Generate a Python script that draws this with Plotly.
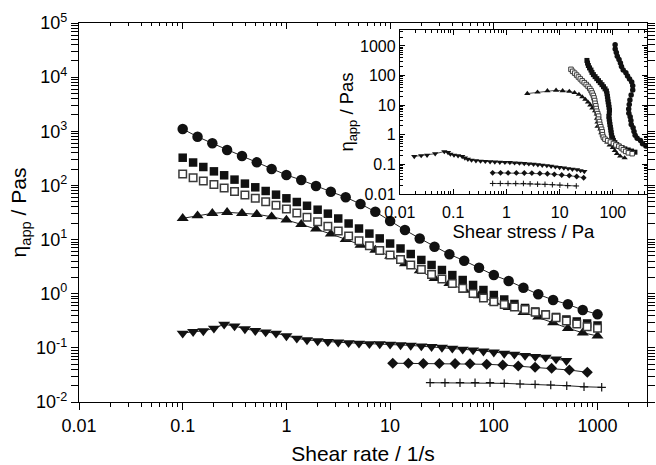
import plotly.graph_objects as go

# ---------------- data ----------------
rate_a = [0.1, 0.139, 0.193, 0.268, 0.373, 0.518, 0.72, 1.0, 1.39, 1.93, 2.68, 3.73, 5.18, 7.2,
          10, 13.9, 19.3, 26.8, 37.3, 51.8, 72, 100, 139, 193, 268, 373, 518, 720, 1000]
rate_b = [0.1, 0.126, 0.158, 0.2, 0.251, 0.316, 0.398, 0.501, 0.631, 0.794,
          1.0, 1.26, 1.58, 2.0, 2.51, 3.16, 3.98, 5.01, 6.31, 7.94,
          10, 12.6, 15.8, 20, 25.1, 31.6, 39.8, 50.1, 63.1, 79.4,
          100, 126, 158, 200, 251, 316, 398, 501, 631, 794, 1000]

eta_circle = [1100, 794, 600, 451, 349, 267, 201, 156, 126, 97.5, 76.6, 60.4, 45.4, 32.7,
              22.0, 15.0, 10.5, 7.38, 5.34, 4.07, 3.02, 2.21, 1.72, 1.29, 0.975, 0.765,
              0.637, 0.500, 0.416]
eta_square = [325, 265, 219, 182, 154, 128, 108, 92.3, 78.9, 67.5, 57.8, 49.4, 42.1, 35.6,
              30.1, 24.5, 19.8, 16.0, 12.9, 10.5, 8.45, 6.84, 5.41, 4.20, 3.39, 2.74, 2.21,
              1.79, 1.45, 1.17, 0.946, 0.782, 0.646, 0.545, 0.469, 0.413, 0.372, 0.334,
              0.307, 0.282, 0.259]
eta_open_square = [163, 139, 121, 104, 89.6, 77.2, 66.5, 57.8, 50.0, 43.1, 36.7, 30.9, 25.8,
                   21.4, 17.6, 14.4, 11.6, 9.53, 7.71, 6.28, 5.19, 4.28, 3.39, 2.80, 2.26,
                   1.87, 1.54, 1.26, 1.01, 0.834, 0.711, 0.632, 0.568, 0.511, 0.453, 0.409,
                   0.361, 0.313, 0.275, 0.246, 0.230]
eta_triangle = [24.7, 27.6, 30.5, 31.9, 30.5, 29.3, 26.4, 23.0, 19.1, 15.7, 12.7, 10.1, 7.94,
                6.41, 4.97, 3.61, 2.66, 1.92, 1.56, 1.17, 0.918, 0.703, 0.561, 0.450, 0.372,
                0.291, 0.230, 0.190, 0.166]
eta_down = [0.186, 0.199, 0.205, 0.230, 0.272, 0.253, 0.223, 0.207, 0.196, 0.186, 0.166,
            0.150, 0.140, 0.134, 0.130, 0.127, 0.124, 0.121, 0.119, 0.118, 0.116, 0.113,
            0.111, 0.108, 0.105, 0.102, 0.098, 0.094, 0.091, 0.087, 0.083, 0.079, 0.076,
            0.072, 0.069, 0.067, 0.062, 0.058]
rate_down = rate_b[:38]
rate_diamond = [10.6, 15.0, 20.9, 29.8, 42.3, 58.9, 85.4, 122, 172, 250, 361, 535, 797]
eta_diamond = [0.052, 0.0518, 0.0515, 0.0515, 0.0512, 0.051, 0.0497, 0.0482, 0.0462, 0.0437,
               0.0419, 0.039, 0.0354]
rate_plus = [24.3, 33.8, 47.2, 65.9, 91.9, 126, 179, 250, 354, 505, 741, 1097]
eta_plus = [0.0227, 0.0227, 0.0227, 0.0227, 0.0227, 0.0221, 0.0215, 0.0212, 0.0206, 0.0200,
            0.0191, 0.0187]

main_xticks = [0.01, 0.1, 1, 10, 100, 1000]
main_xlabels = ["0.01", "0.1", "1", "10", "100", "1000"]
main_yticks = [1e-2, 1e-1, 1e0, 1e1, 1e2, 1e3, 1e4, 1e5]
main_ylabels = ["10<sup>-2</sup>", "10<sup>-1</sup>", "10<sup>0</sup>", "10<sup>1</sup>",
                "10<sup>2</sup>", "10<sup>3</sup>", "10<sup>4</sup>", "10<sup>5</sup>"]
inset_xticks = [0.01, 0.1, 1, 10, 100]
inset_xlabels = ["0.01", "0.1", "1", "10", "100"]
inset_yticks = [0.01, 0.1, 1, 10, 100, 1000]
inset_ylabels = ["0.01", "0.1", "1", "10", "100", "1000"]

# shear stress = viscosity x shear rate (inset abscissa)
def stress(rate, eta):
    return [r * e for r, e in zip(rate, eta)]

series = [
    # rate, eta, symbol, main size, inset size, fill, outline, outline width, line?
    (rate_down, eta_down, "triangle-down", 10.5, 5.5, "#111111", "#111111", 0, True),
    (rate_diamond, eta_diamond, "diamond", 8.5, 4.5, "#111111", "#111111", 0, True),
    (rate_plus, eta_plus, "cross-thin", 6, 4, "#111111", "#111111", 1.2, True),
    (rate_a, eta_triangle, "triangle-up", 10.5, 5.5, "#111111", "#111111", 0, True),
    (rate_b, eta_square, "square", 8.5, 5, "#111111", "#111111", 0, False),
    (rate_b, eta_open_square, "square", 7.5, 4.5, "white", "#3a3a3a", 1.5, False),
    (rate_a, eta_circle, "circle", 10.5, 5.5, "#111111", "#111111", 0, True),
]

FONT = "Liberation Sans, Arial, sans-serif"
fig = go.Figure()

for rate, eta, sym, s_main, s_in, fill, oc, ow, has_line in series:
    mode = "lines+markers" if has_line else "markers"
    fig.add_trace(go.Scatter(
        x=rate, y=eta, mode=mode, xaxis="x", yaxis="y",
        line=dict(color="#222222", width=1),
        marker=dict(symbol=sym, size=s_main, color=fill, line=dict(color=oc, width=ow)),
        showlegend=False, hoverinfo="skip"))
for rate, eta, sym, s_main, s_in, fill, oc, ow, has_line in series:
    fig.add_trace(go.Scatter(
        x=stress(rate, eta), y=eta, mode="lines+markers", xaxis="x2", yaxis="y2",
        line=dict(color="#222222", width=0.8),
        marker=dict(symbol=sym, size=s_in, color=fill,
                    line=dict(color=oc, width=min(ow, 1.0))),
        showlegend=False, hoverinfo="skip"))

# dummy trace so the top mirror axis is drawn
fig.add_trace(go.Scatter(x=[1], y=[1], xaxis="x3", yaxis="y", mode="markers",
                         marker=dict(opacity=0), showlegend=False, hoverinfo="skip"))

axis_common = dict(type="log", showgrid=False, zeroline=False, showline=True,
                   linecolor="black", linewidth=1.2, tickcolor="black", automargin=False,
                   tickfont=dict(family=FONT, color="black"))

fig.update_layout(
    width=656, height=465,
    margin=dict(l=79, r=9, t=23, b=63, autoexpand=False),
    paper_bgcolor="white", plot_bgcolor="white",
    font=dict(family=FONT, color="black"),
    xaxis=dict(**axis_common, range=[-2, 3.4771], domain=[0, 1], anchor="y",
               tickmode="array", tickvals=main_xticks, ticktext=main_xlabels,
               ticks="outside", ticklen=7, tickwidth=1.2, tickfont_size=18,
               minor=dict(dtick="D1", ticks="outside", ticklen=4, tickcolor="black", tickwidth=1),
               title=dict(text="Shear rate / 1/s", font=dict(size=21, family=FONT), standoff=16)),
    xaxis3=dict(**axis_common, range=[-2, 3.4771], overlaying="x", side="top", anchor="y",
                tickmode="array", tickvals=main_xticks, showticklabels=False,
                ticks="inside", ticklen=6, tickwidth=1.2,
                minor=dict(dtick="D1", ticks="inside", ticklen=3, tickcolor="black", tickwidth=1)),
    yaxis=dict(**axis_common, range=[-2, 5], domain=[0, 1], anchor="x",
               tickmode="array", tickvals=main_yticks, ticktext=main_ylabels,
               ticks="outside", ticklen=7, tickwidth=1.2, tickfont_size=18,
               mirror="allticks",
               minor=dict(dtick="D1", ticks="outside", ticklen=4, tickcolor="black", tickwidth=1),
               title=dict(text="η<sub>app</sub> / Pas", font=dict(size=21, family=FONT), standoff=3)),
    xaxis2=dict(**axis_common, range=[-2, 2.64], domain=[0.565, 1.0], anchor="y2",
                tickmode="array", tickvals=inset_xticks, ticktext=inset_xlabels,
                ticks="inside", ticklen=5, tickwidth=1, tickfont_size=16, mirror="allticks",
                ticklabelstandoff=4,
                minor=dict(dtick="D1", ticks="inside", ticklen=3, tickcolor="black", tickwidth=0.8),
                title=dict(text="Shear stress / Pa", font=dict(size=18.5, family=FONT), standoff=2)),
    yaxis2=dict(**axis_common, range=[-2, 3.54], domain=[0.5488, 0.9815], anchor="x2",
                tickmode="array", tickvals=inset_yticks, ticktext=inset_ylabels,
                ticks="inside", ticklen=5, tickwidth=1, tickfont_size=16, mirror="allticks",
                minor=dict(dtick="D1", ticks="inside", ticklen=3, tickcolor="black", tickwidth=0.8),
                title=dict(text="η<sub>app</sub> / Pas", font=dict(size=18.5, family=FONT), standoff=1)),
)

fig.write_html("out.html")
